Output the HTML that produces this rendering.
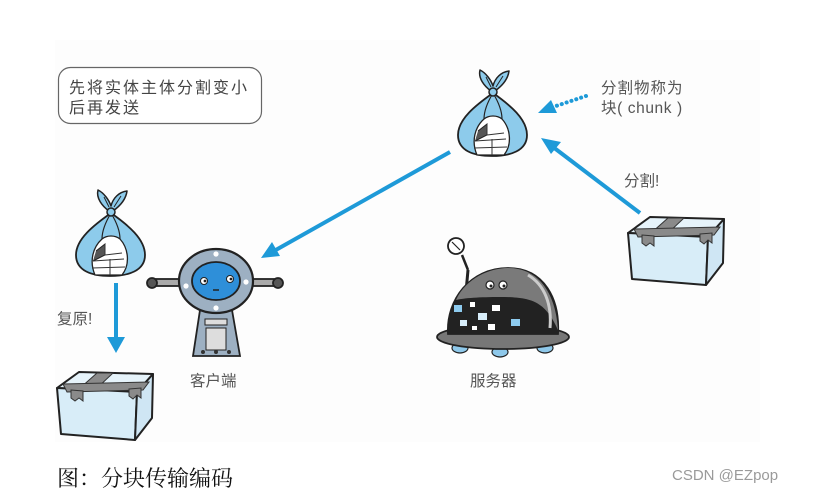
<!DOCTYPE html>
<html>
<head>
<meta charset="utf-8">
<style>
html,body{margin:0;padding:0;background:#fff;}
body{width:815px;height:494px;overflow:hidden;position:relative;}
svg{position:absolute;left:0;top:0;}
</style>
</head>
<body>
<svg width="815" height="494" viewBox="0 0 815 494" xmlns="http://www.w3.org/2000/svg">
<defs>
  <g id="bag">
    <!-- body -->
    <path d="M37,24 C20,36 2,50 2,66 C2,82 18,87 36,87 C54,87 71,82 71,66 C71,50 54,36 37,24 Z" fill="#8dcbeb" stroke="#222" stroke-width="1.8"/>
    <!-- window -->
    <path d="M28,50 C19,58 15,72 21,86 L48,86 C56,76 55,60 46,50 C41,46 33,46 28,50 Z" fill="#fff" stroke="#222" stroke-width="1.3"/>
    <path d="M22,62 L31,55 L31,66 L19,72" fill="#555" stroke="#222" stroke-width="1"/>
    <path d="M31,55 L31,66 M19,72 L50,70 M36,70 L36,86 M18,79 L51,78 M31,66 L48,64" fill="none" stroke="#333" stroke-width="1"/>
    <!-- inner folds -->
    <path d="M37,24 C31,34 28,42 28,50 M37,24 C43,34 46,42 46,50" fill="none" stroke="#222" stroke-width="1.2"/>
    <!-- ears -->
    <path d="M35,22 C28,17 22,9 24,1 C30,4 35,11 37,17 C39,9 45,3 53,2 C52,10 46,17 39,22 Z" fill="#8dcbeb" stroke="#222" stroke-width="1.5" stroke-linejoin="round"/>
    <path d="M30,8 L35,18 M47,7 L40,18" stroke="#222" stroke-width="1" fill="none"/>
    <circle cx="37" cy="23" r="4" fill="#8dcbeb" stroke="#222" stroke-width="1.5"/>
  </g>
  <g id="box">
    <polygon points="0,20 22,4 96,6 80,24" fill="#e6f3fa" stroke="#222" stroke-width="2" stroke-linejoin="round"/>
    <polygon points="0,20 80,24 78,72 4,66" fill="#d8edf8" stroke="#222" stroke-width="2" stroke-linejoin="round"/>
    <polygon points="80,24 96,6 95,50 78,72" fill="#cfe6f4" stroke="#222" stroke-width="2" stroke-linejoin="round"/>
    <!-- tape -->
    <polygon points="40,5 56,5 38,22 22,21" fill="#8a8a8a" stroke="#333" stroke-width="1"/>
    <polygon points="6,16 92,14 86,22 10,24" fill="#8a8a8a" stroke="#333" stroke-width="1"/>
    <polygon points="14,22 26,23 26,33 22,30 18,33 14,30" fill="#8a8a8a" stroke="#333" stroke-width="1"/>
    <polygon points="72,21 84,20 84,30 80,27 76,31 72,28" fill="#8a8a8a" stroke="#333" stroke-width="1"/>
  </g>
</defs>

<!-- faint illustration background -->
<rect x="55" y="40" width="705" height="402" fill="#fdfdfd"/>

<!-- speech box -->
<rect x="58.5" y="67.5" width="203" height="56" rx="12" ry="12" fill="#fff" stroke="#666" stroke-width="1.2"/>
<text x="69" y="93" font-family="'Liberation Sans','Noto Sans CJK SC',sans-serif" font-size="16" fill="#444" letter-spacing="2">先将实体主体分割变小</text>
<text x="69" y="113" font-family="'Liberation Sans','Noto Sans CJK SC',sans-serif" font-size="16" fill="#444" letter-spacing="2">后再发送</text>

<!-- top bag -->
<use href="#bag" transform="translate(456,69)"/>
<!-- left bag -->
<use href="#bag" transform="translate(74,189)"/>

<!-- labels top right -->
<text x="601" y="93" font-family="'Liberation Sans','Noto Sans CJK SC',sans-serif" font-size="15.5" fill="#555" letter-spacing="1">分割物称为</text>
<text x="601" y="113" font-family="'Liberation Sans','Noto Sans CJK SC',sans-serif" font-size="15.5" fill="#555" letter-spacing="0.6">块( chunk )</text>

<!-- dotted arrow -->
<line x1="586" y1="96" x2="556" y2="106" stroke="#1e9ad8" stroke-width="4" stroke-dasharray="0.1 5" stroke-linecap="round"/>
<polygon points="538,113 551,100 557,113" fill="#1e9ad8"/>

<!-- arrow from right box to top bag -->
<line x1="640" y1="213" x2="553" y2="147" stroke="#1e9ad8" stroke-width="4"/>
<polygon points="541,138 561,142 551,154" fill="#1e9ad8"/>
<text x="624" y="186" font-family="'Liberation Sans','Noto Sans CJK SC',sans-serif" font-size="15.5" fill="#555">分割!</text>

<!-- right box -->
<use href="#box" transform="translate(628,213)"/>

<!-- long arrow from top bag to client -->
<line x1="450" y1="152" x2="274" y2="251" stroke="#1e9ad8" stroke-width="4"/>
<polygon points="261,258 272,242 280,256" fill="#1e9ad8"/>

<!-- down arrow -->
<line x1="116" y1="283" x2="116" y2="340" stroke="#1e9ad8" stroke-width="4"/>
<polygon points="107,337 125,337 116,353" fill="#1e9ad8"/>
<text x="57" y="324" font-family="'Liberation Sans','Noto Sans CJK SC',sans-serif" font-size="15.5" fill="#555">复原!</text>

<!-- bottom box -->
<use href="#box" transform="translate(57,368)"/>

<!-- client robot -->
<g stroke="#222" stroke-width="1.8">
  <rect x="155" y="279" width="28" height="7" fill="#aaa"/>
  <rect x="250" y="279" width="26" height="7" fill="#aaa"/>
  <circle cx="152" cy="283" r="5" fill="#555"/>
  <circle cx="278" cy="283" r="5" fill="#555"/>
  <path d="M200,310 L232,310 L240,356 L193,356 Z" fill="#9db0c2"/>
  <rect x="205" y="319" width="22" height="6" fill="#ddd" stroke-width="1"/>
  <rect x="206" y="328" width="20" height="22" fill="#ddd" stroke-width="1"/>
  <circle cx="203" cy="352" r="2" fill="#333" stroke="none"/>
  <circle cx="216" cy="352" r="2" fill="#333" stroke="none"/>
  <circle cx="229" cy="352" r="2" fill="#333" stroke="none"/>
  <ellipse cx="216" cy="281" rx="37" ry="32" fill="#9db0c2" stroke-width="2.2"/>
  <ellipse cx="216" cy="281" rx="24" ry="19" fill="#2e8fd9"/>
</g>
<circle cx="216" cy="254" r="2.6" fill="#fff"/>
<circle cx="216" cy="308" r="2.6" fill="#fff"/>
<circle cx="186" cy="286" r="2.6" fill="#fff"/>
<circle cx="246" cy="282" r="2.6" fill="#fff"/>
<circle cx="204" cy="281" r="3.5" fill="#fff" stroke="#222" stroke-width="1"/>
<circle cx="230" cy="279" r="3.5" fill="#fff" stroke="#222" stroke-width="1"/>
<circle cx="205" cy="281" r="1.4" fill="#222"/>
<circle cx="231" cy="279" r="1.4" fill="#222"/>
<line x1="213" y1="290" x2="219" y2="290" stroke="#222" stroke-width="1.5"/>
<text x="190" y="386" font-family="'Liberation Sans','Noto Sans CJK SC',sans-serif" font-size="15.5" fill="#555">客户端</text>

<!-- server robot -->
<g stroke="#222" stroke-width="1.8">
  <line x1="462" y1="255" x2="468" y2="270" stroke-width="2.5"/>
  <line x1="468" y1="270" x2="466" y2="292" stroke-width="3"/>
  <ellipse cx="456" cy="246" rx="8" ry="8" fill="#fff" transform="rotate(-30 456 246)"/>
  <line x1="452" y1="242" x2="460" y2="250" stroke-width="1.2"/>
  <ellipse cx="460" cy="348" rx="8" ry="5" fill="#8ec8ea" stroke-width="1.2"/>
  <ellipse cx="500" cy="352" rx="8" ry="5" fill="#8ec8ea" stroke-width="1.2"/>
  <ellipse cx="545" cy="348" rx="8" ry="5" fill="#8ec8ea" stroke-width="1.2"/>
  <ellipse cx="503" cy="337" rx="66" ry="12" fill="#777"/>
  <path d="M448,334 C446,300 470,268 508,268 C545,268 560,300 558,334 Z" fill="#222"/>
  <path d="M456,300 C466,278 490,268 508,268 C540,268 556,295 558,330 C545,300 530,297 500,297 C480,297 464,298 456,300 Z" fill="#7a7a7a" stroke="none"/>
  <path d="M528,275 C545,285 552,305 550,328" fill="none" stroke="#ccc" stroke-width="3"/>
</g>
<circle cx="490" cy="285" r="4" fill="#fff" stroke="#222" stroke-width="1.2"/>
<circle cx="503" cy="285" r="4" fill="#fff" stroke="#222" stroke-width="1.2"/>
<circle cx="491" cy="286" r="1.5" fill="#222"/>
<circle cx="504" cy="286" r="1.5" fill="#222"/>
<rect x="454" y="305" width="8" height="7" fill="#8ecbef"/>
<rect x="470" y="302" width="5" height="5" fill="#fff"/>
<rect x="478" y="313" width="9" height="7" fill="#d8eefa"/>
<rect x="492" y="305" width="8" height="6" fill="#fff"/>
<rect x="460" y="320" width="7" height="6" fill="#d8eefa"/>
<rect x="472" y="326" width="5" height="4" fill="#fff"/>
<rect x="488" y="324" width="7" height="6" fill="#fff"/>
<rect x="511" y="319" width="9" height="7" fill="#8ecbef"/>
<text x="470" y="386" font-family="'Liberation Sans','Noto Sans CJK SC',sans-serif" font-size="15.5" fill="#555">服务器</text>

<!-- caption -->
<text x="57" y="486" font-family="'Liberation Serif','Noto Serif CJK SC',serif" font-size="22" fill="#111">图：分块传输编码</text>
<text x="672" y="480" font-family="'Liberation Sans',sans-serif" font-size="15" fill="#9a9a9a">CSDN @EZpop</text>
</svg>
</body>
</html>
